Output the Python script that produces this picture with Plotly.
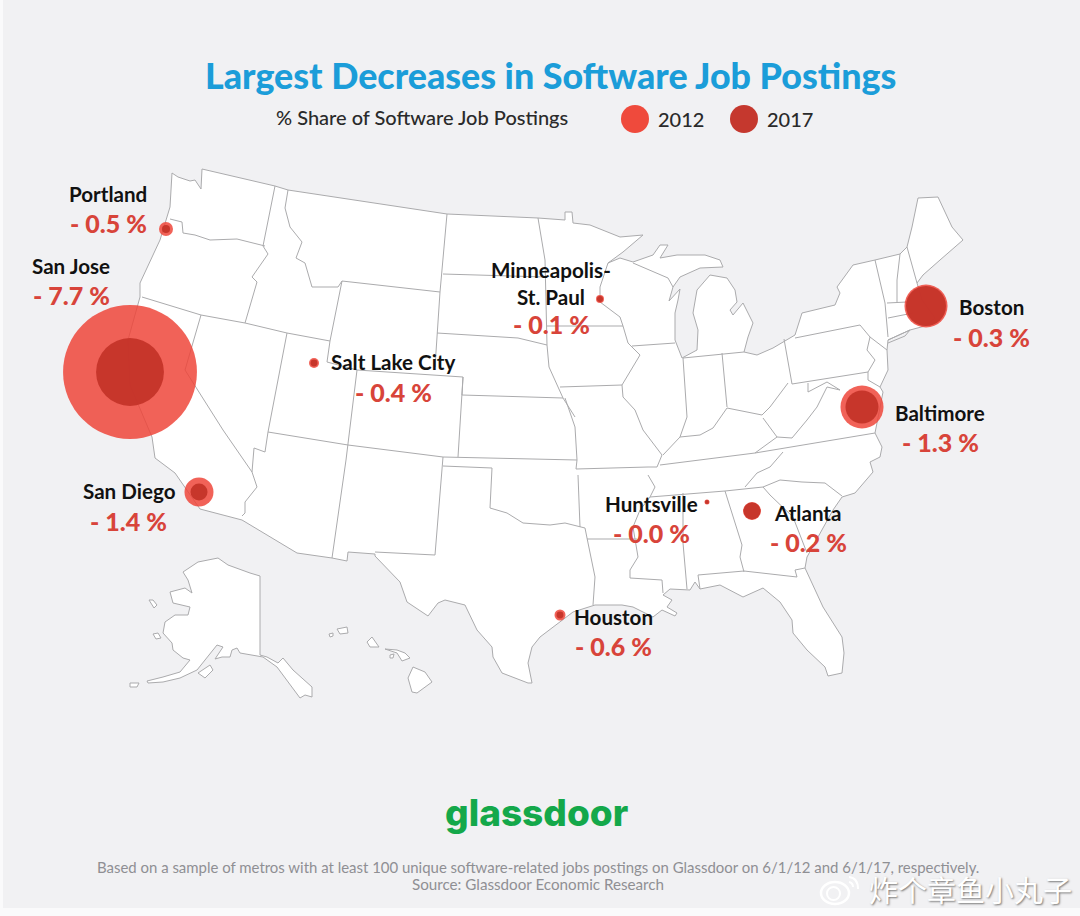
import plotly.graph_objects as go

# ---- bubble data ----
cities = ["San Jose", "Portland", "Salt Lake City", "Minneapolis-St. Paul", "Boston",
          "Baltimore", "San Diego", "Houston", "Huntsville", "Atlanta"]
city_x = [130, 166, 314, 600, 926, 862, 199, 560, 707, 752]
city_y = [372, 229, 363, 299, 306, 407, 492, 615, 502, 511]
share_2012 = [10.36, 0.113, 0.058, 0.037, 1.07, 1.07, 0.486, 0.07, 0.0145, 0.187]
share_2017 = [2.66, 0.037, 0.028, 0.021, 0.925, 0.63, 0.167, 0.028, 0.009, 0.167]

name_labels = ["San Jose", "Portland", "Salt Lake City", "Minneapolis-<br>St. Paul", "Boston",
               "Baltimore", "San Diego", "Houston", "Huntsville", "Atlanta"]
name_x = [71, 108, 393, 551, 991, 940, 129, 613, 651, 807]
name_y = [266, 194, 362, 283, 307, 413, 491, 617, 504, 513]
change_labels = ["- 7.7 %", "- 0.5 %", "- 0.4 %", "- 0.1 %", "- 0.3 %",
                 "- 1.3 %", "- 1.4 %", "- 0.6 %", "- 0.0 %", "- 0.2 %"]
change_x = [71, 108, 393, 551, 991, 940, 128, 613, 651, 808]
change_y = [295, 223, 392, 324, 337, 442, 521, 646, 533, 542]

legend_years = ["2012", "2017"]
legend_x = [635, 744]
legend_y = [119, 119]

# ---- map geometry ----
lower48 = [(172,173),(178,177),(190,181),(195,180),(201,189),(202,169),(275,186),(288,190),(447,214),(538,218),
 (565,220),(565,212),(572,212),(573,223),(590,225),(607,232),(620,237),(643,235),(623,252),(608,263),(620,258),(633,262),
 (653,255),(660,245),(668,245),(660,258),(677,255),(705,255),(720,260),(723,267),(700,268),(680,277),(673,287),(669,301),
 (680,289),(678,300),(675,313),(675,340),(682,358),(697,350),(698,330),(693,313),(697,290),(710,275),(727,278),(735,290),
 (737,302),(730,310),(733,315),(743,303),(753,323),(748,337),(744,352),(757,355),(773,348),(795,335),(802,313),(835,305),
 (840,293),(837,287),(853,265),(875,260),(900,254),(907,247),(912,227),(918,198),(938,197),(952,227),(963,240),(940,260),
 (923,275),(917,283),(922,300),(935,318),(925,326),(910,330),(888,340),(887,350),(888,370),(880,387),(883,392),(875,433),
 (882,447),(880,457),(870,462),(873,472),(855,493),(842,497),(833,510),(823,528),(807,557),(805,568),(823,607),(842,637),
 (844,653),(842,673),(828,676),(825,667),(807,650),(793,633),(792,620),(780,602),(763,588),(743,597),(720,585),(700,589),
 (695,582),(690,590),(670,589),(663,595),(672,600),(667,607),(677,613),(675,616),(662,610),(653,617),(633,607),(622,605),
 (595,605),(573,612),(540,637),(532,647),(528,663),(532,683),(528,683),(502,673),(493,657),(492,647),(477,630),(465,605),
 (445,600),(438,603),(428,616),(407,602),(400,582),(375,556),(375,554),(348,552),(347,561),(332,558),(297,553),(242,520),
 (200,509),(175,473),(155,458),(152,437),(130,385),(128,340),(140,297),(140,283),(160,240),(170,207)]

alaska = [(183,572),(198,562),(218,558),(228,565),(250,573),(260,576),(260,655),(267,657),(278,663),(283,658),(293,670),
 (312,687),(312,697),(305,695),(300,698),(290,685),(277,667),(263,657),(240,653),(237,648),(232,650),(230,657),(222,657),
 (215,659),(223,647),(217,645),(207,658),(197,670),(180,678),(163,682),(148,683),(147,681),(163,677),(180,672),(190,660),
 (183,658),(173,650),(172,643),(163,633),(165,622),(175,615),(188,615),(190,607),(173,603),(170,592),(185,588),(192,593),(188,580)]
islands = [
 [(198,673),(210,665),(213,670),(205,678)],
 [(149,600),(153,600),(157,605),(154,608)],
 [(153,634),(158,633),(161,638),(156,639)],
 [(130,683),(139,683),(137,687),(130,687)],
 [(413,667),(425,672),(432,682),(417,693),(412,692),(408,678)],
 [(385,649),(397,650),(405,653),(410,658),(402,661),(397,653)],
 [(367,642),(372,637),(379,647),(370,647)],
 [(337,629),(347,627),(348,633),(340,634)],
 [(329,634),(333,633),(333,636),(330,637)],
 [(390,655),(394,654),(393,658),(390,658)],
]

borders = [
 [(170,219),(182,222),(183,233),(195,235),(210,240),(237,239),(265,246)],
 [(275,186),(263,246),(268,254),(252,277),(257,282),(245,323)],
 [(142,297),(201,315),(245,323),(287,333),(330,341)],
 [(288,190),(285,208),(290,227),(302,242),(296,258),(305,263),(312,287),(338,287),(342,281)],
 [(342,281),(330,341),(327,362),(357,370),(463,377)],
 [(342,281),(440,292),(435,367)],
 [(447,214),(440,292)],
 [(443,274),(545,277)],
 [(437,333),(518,338),(547,345)],
 [(463,377),(462,395),(563,398),(575,417)],
 [(538,218),(545,260),(547,345),(549,367),(563,398)],
 [(547,326),(623,326)],
 [(608,263),(600,287),(600,302),(620,317),(623,326),(628,343),(640,355),(630,372),(622,385),(623,397),(635,410),(643,430),(662,455),(657,467),(648,467)],
 [(560,387),(622,385)],
 [(632,346),(675,343)],
 [(683,358),(687,417),(680,437),(663,455)],
 [(683,358),(744,352)],
 [(722,353),(727,407)],
 [(680,437),(700,435),(713,428),(727,408),(737,410),(762,415),(770,407),(788,383)],
 [(784,339),(792,384)],
 [(795,338),(860,325),(870,337),(867,350),(875,360),(868,372),(792,384)],
 [(875,260),(885,303),(888,337)],
 [(887,303),(907,302)],
 [(888,318),(913,313)],
 [(900,254),(897,280),(897,302)],
 [(907,247),(917,283)],
 [(870,337),(887,350)],
 [(808,383),(808,392),(827,382),(840,390),(827,387),(817,407),(807,420),(792,438),(777,437),(763,418)],
 [(868,372),(868,380),(880,387)],
 [(777,437),(755,453)],
 [(660,465),(683,462),(755,453),(875,433)],
 [(565,398),(575,427),(577,460),(576,469),(648,467)],
 [(443,457),(577,460)],
 [(268,432),(348,445),(443,457),(435,555),(375,552)],
 [(357,370),(346,460),(332,558)],
 [(463,377),(458,457)],
 [(443,466),(492,468),(490,508),(507,513),(523,523),(550,525),(565,523),(585,528),(587,538),(595,577),(593,605)],
 [(578,475),(580,527)],
 [(587,539),(637,539)],
 [(648,475),(655,487),(650,497),(640,510),(633,527),(638,557),(630,570),(630,578),(662,580),(663,593)],
 [(650,497),(725,491),(763,487)],
 [(683,493),(683,543),(687,589)],
 [(725,491),(742,545),(740,557),(744,572)],
 [(698,575),(744,571),(797,577),(795,570),(805,568)],
 [(698,575),(700,589)],
 [(745,487),(757,473),(770,467),(783,452)],
 [(763,487),(780,480),(802,482),(825,483),(842,496)],
 [(763,487),(770,495),(793,517),(807,553)],
 [(201,315),(185,370),(223,430),(252,472),(257,487),(245,502),(245,513),(242,516)],
 [(287,333),(268,432),(265,452),(254,448),(252,472)],
 [(633,263),(668,278),(673,287)],
 [(888,340),(910,330),(905,336),(888,343)],
]

LINE = "#ababad"
BG = "#f1f1f3"
FONT = "Lato"
HEAVY = "Lato Black, Lato"
OUTER = "rgba(238,68,56,0.84)"
INNER = "rgba(197,52,42,0.96)"


def unzip(paths):
    xs, ys = [], []
    for p in paths:
        xs += [c[0] for c in p] + [p[0][0], None]
        ys += [c[1] for c in p] + [p[0][1], None]
    return xs, ys


def unzip_open(paths):
    xs, ys = [], []
    for p in paths:
        xs += [c[0] for c in p] + [None]
        ys += [c[1] for c in p] + [None]
    return xs, ys


fig = go.Figure()
for shape in [lower48, alaska] + islands:
    xs, ys = unzip([shape])
    fig.add_trace(go.Scatter(x=xs, y=ys, mode="lines", fill="toself", fillcolor="white",
                             line=dict(color=LINE, width=1), hoverinfo="skip", showlegend=False))
bx, by = unzip_open(borders)
fig.add_trace(go.Scatter(x=bx, y=by, mode="lines", line=dict(color=LINE, width=1),
                         hoverinfo="skip", showlegend=False))

SIZEREF = 1 / 865
fig.add_trace(go.Scatter(x=city_x, y=city_y, mode="markers", name="2012", text=cities, showlegend=False,
                         marker=dict(size=share_2012, sizemode="area", sizeref=SIZEREF, sizemin=0, opacity=1,
                                     color=OUTER, line=dict(width=0))))
fig.add_trace(go.Scatter(x=city_x, y=city_y, mode="markers", name="2017", text=cities, showlegend=False,
                         marker=dict(size=share_2017, sizemode="area", sizeref=SIZEREF, sizemin=0, opacity=1,
                                     color=INNER, line=dict(width=0))))
fig.add_trace(go.Scatter(x=legend_x, y=legend_y, mode="markers", showlegend=False,
                         marker=dict(size=28, opacity=1, color=["#ef4a3c", "#c5382e"], line=dict(width=0))))


def note(x, y, text, size, color, weight=400, family=FONT, anchor="center", shadow=None):
    font = dict(family=family, size=size, color=color, weight=weight)
    if shadow:
        font["shadow"] = shadow
    fig.add_annotation(x=x, y=y, xref="x", yref="y", text=text, showarrow=False, font=font,
                       xanchor=anchor, yanchor="middle", align="center")


note(550, 75.5, "Largest Decreases in Software Job Postings", 35.8, "#1b9dd9", 900, family=HEAVY)
note(421.5, 117, "% Share of Software Job Postings", 20, "#2a2a2a", 500)
for lx, yr in zip(legend_x, legend_years):
    note(lx + 45.5, 119, yr, 20, "#2a2a2a", 500)
for x, y, t in zip(name_x, name_y, name_labels):
    note(x, y, t, 20.6, "#111111", 700)
for x, y, t in zip(change_x, change_y, change_labels):
    note(x, y, t, 25, "#d8443a", 900, family=HEAVY)
note(536, 812, "glassdoor", 37, "#14a84a", 800, family="Inter")
note(538, 867, "Based on a sample of metros with at least 100 unique software-related jobs postings on Glassdoor on 6/1/12 and 6/1/17, respectively.",
     14.95, "#8f8f93")
note(538, 884, "Source: Glassdoor Economic Research", 15.2, "#8f8f93")
note(970, 889, "炸个章鱼小丸子", 29, "#ffffff", 400, family="Noto Sans CJK SC",
     shadow="1px 1px 2px #777777")

# Weibo watermark glyph and the thin light strips at the picture's edge
shapes = [
    dict(type="rect", x0=3, x1=1080, y0=0, y1=908, fillcolor=BG, line_width=0, layer="below"),
    dict(type="circle", x0=821, x1=849, y0=882, y1=904, line=dict(color="white", width=2.5), fillcolor="rgba(0,0,0,0)"),
    dict(type="circle", x0=827, x1=840, y0=887, y1=900, line=dict(color="white", width=2), fillcolor="rgba(0,0,0,0)"),
    dict(type="path", path="M 849 877 Q 858 878 858 889", line=dict(color="white", width=2)),
    dict(type="path", path="M 849 882 Q 853 883 853 887", line=dict(color="white", width=2)),
]
fig.update_layout(
    width=1080, height=916, margin=dict(l=0, r=0, t=0, b=0),
    paper_bgcolor="#fafafb", plot_bgcolor="rgba(0,0,0,0)", hovermode=False, showlegend=False,
    shapes=shapes,
    xaxis=dict(range=[0, 1080], visible=False, fixedrange=True),
    yaxis=dict(range=[916, 0], visible=False, fixedrange=True),
)
fig.write_html("out.html", config=dict(displayModeBar=False),
               post_script="document.body.style.margin='0';document.body.style.overflow='hidden';")
